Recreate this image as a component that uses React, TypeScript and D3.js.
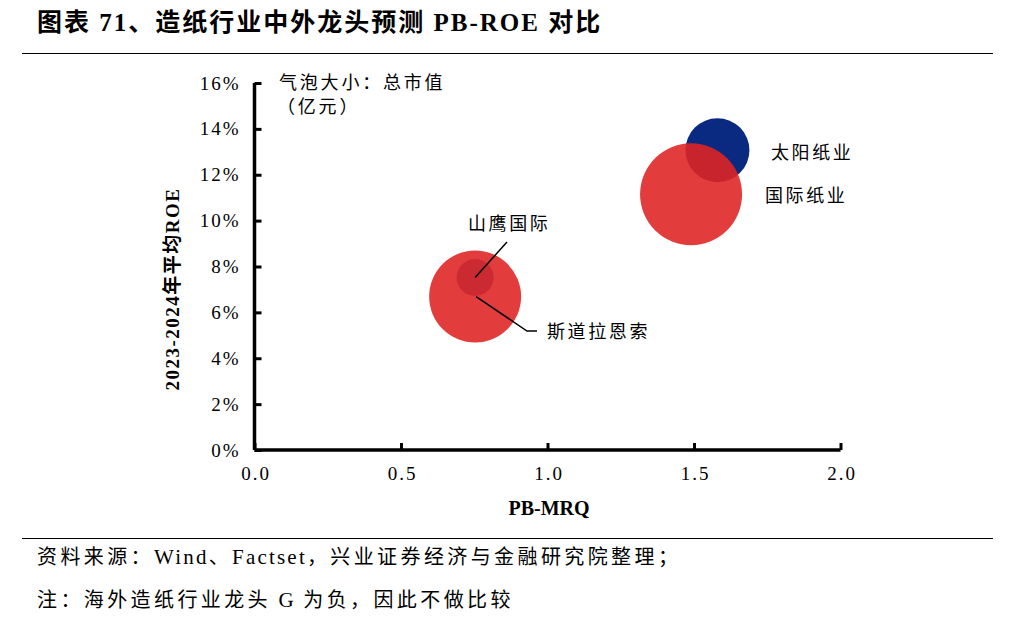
import React, { useEffect, useRef } from 'react';
import * as d3 from 'd3';

// bubble data: PB-MRQ, 2023-2024 avg ROE (%), market cap (亿元)
const companies = ['太阳纸业', '国际纸业', '斯道拉恩索', '山鹰国际'];
const pbValues = [1.58, 1.49, 0.753, 0.753];
const roeValues = [13.07, 11.15, 6.69, 7.52];
const marketCaps = [400, 1016, 826, 134];
const bubbleColors = ['#0a2a82', 'rgba(223,36,36,0.89)', 'rgba(223,36,36,0.89)', '#cc2a32'];

const xTicks = [0, 0.5, 1.0, 1.5, 2.0];
const yTicks = [0, 2, 4, 6, 8, 10, 12, 14, 16];

// footer text, split into CJK / latin runs so spacing can differ
const sourceRuns = ['资料来源：', 'Wind', '、', 'Factset', '，兴业证券经济与金融研究院整理；'];
const noteRuns = ['注：海外造纸行业龙头', ' G ', '为负，因此不做比较'];

const SERIF = '"Liberation Serif", "Noto Sans CJK SC", serif';
const CJK = '"Noto Sans CJK SC", sans-serif';

const isLatin = (s: string) => /^[\x20-\x7e]+$/.test(s);

export default function App() {
  const svgRef = useRef<SVGSVGElement | null>(null);

  useEffect(() => {
    document.body.style.margin = '0';
    if (!svgRef.current) return;
    d3.select(svgRef.current).selectAll('*').remove();

    const width = 1022;
    const height = 623;
    const svg = d3.select(svgRef.current).attr('width', width).attr('height', height);

    const x = d3.scaleLinear().domain([0, 2]).range([254.5, 840.5]);
    const y = d3.scaleLinear().domain([0, 16]).range([450, 83]);
    const r = d3.scaleSqrt().domain([0, d3.max(marketCaps) as number]).range([0, 51]);

    // title
    svg.append('text')
      .attr('x', 37).attr('y', 31)
      .style('font-family', SERIF).style('font-weight', 'bold').style('font-size', '25px')
      .style('letter-spacing', '2px')
      .text('图表 71、造纸行业中外龙头预测 PB-ROE 对比');
    svg.append('line').attr('x1', 22).attr('x2', 993).attr('y1', 53.5).attr('y2', 53.5)
      .attr('stroke', '#000').attr('stroke-width', 1);

    // bubbles
    const idx = d3.range(companies.length);
    svg.append('g').selectAll('circle').data(idx).join('circle')
      .attr('cx', i => x(pbValues[i]))
      .attr('cy', i => y(roeValues[i]))
      .attr('r', i => r(marketCaps[i]))
      .attr('fill', i => bubbleColors[i]);

    // axes
    const yAxis = d3.axisLeft(y).tickValues(yTicks).tickSize(-7).tickPadding(14)
      .tickFormat(d => `${d}%`);
    const gy = svg.append('g').attr('transform', `translate(${x(0)},0)`).call(yAxis);
    const xAxis = d3.axisBottom(x).tickValues(xTicks).tickSize(-7).tickPadding(17)
      .tickFormat(d3.format('.1f'));
    const gx = svg.append('g').attr('transform', `translate(0,${y(0)})`).call(xAxis);
    [gx, gy].forEach(g => {
      g.select('.domain').attr('stroke', '#000').attr('stroke-width', 3.5);
      g.selectAll('.tick line').attr('stroke', '#000').attr('stroke-width', 3);
      g.selectAll('.tick text').style('font-family', SERIF).style('font-size', '19px')
        .style('letter-spacing', '2px').attr('fill', '#000');
    });
    gx.selectAll('.tick text').attr('dx', 1);
    gy.select('.domain').attr('d', `M0,${y(16)}V${y(0)}`);
    gx.select('.domain').attr('d', `M${x(0)},0H${x(2)}`);

    // axis titles
    svg.append('text')
      .attr('transform', `translate(179,289) rotate(-90)`)
      .attr('text-anchor', 'middle')
      .style('font-family', SERIF).style('font-weight', 'bold').style('font-size', '19px')
      .style('letter-spacing', '1.5px')
      .text('2023-2024年平均ROE');
    svg.append('text')
      .attr('x', 549).attr('y', 515).attr('text-anchor', 'middle')
      .style('font-family', SERIF).style('font-weight', 'bold').style('font-size', '20px')
      .text('PB-MRQ');

    // bubble size note
    svg.append('text').attr('x', 279).attr('y', 89)
      .style('font-family', CJK).style('font-size', '18px').style('letter-spacing', '2.8px')
      .text('气泡大小：总市值');
    svg.append('text').attr('x', 277).attr('y', 113)
      .style('font-family', CJK).style('font-size', '18px').style('letter-spacing', '2.8px')
      .text('（亿元）');

    // labels
    const lab = (t: string, lx: number, ly: number) =>
      svg.append('text').attr('x', lx).attr('y', ly)
        .style('font-family', CJK).style('font-size', '18px').style('letter-spacing', '2.6px')
        .text(t);
    lab(companies[0], 771, 159);
    lab(companies[1], 765, 202);
    lab(companies[3], 468, 230);
    lab(companies[2], 547, 338);

    // leader lines
    const line = d3.line();
    const sy = [x(pbValues[3]), y(roeValues[3])] as [number, number];
    svg.append('path')
      .attr('d', line([sy, [507, 242]]))
      .attr('stroke', '#000').attr('stroke-width', 1.5).attr('fill', 'none');
    const sd = [x(pbValues[2]) + 1, y(roeValues[2])] as [number, number];
    svg.append('path')
      .attr('d', line([sd, [527, 331], [537, 331]]))
      .attr('stroke', '#000').attr('stroke-width', 1.5).attr('fill', 'none');

    // footer
    svg.append('line').attr('x1', 22).attr('x2', 993).attr('y1', 538.5).attr('y2', 538.5)
      .attr('stroke', '#000').attr('stroke-width', 1);
    const footer = (runs: string[], ty: number) => {
      const t = svg.append('text').attr('x', 37).attr('y', ty);
      runs.forEach(s => {
        const latin = isLatin(s);
        t.append('tspan')
          .style('font-family', latin ? '"Liberation Serif", serif' : CJK)
          .style('font-size', latin ? '21px' : '20px')
          .style('letter-spacing', latin ? '2.2px' : '3.4px')
          .style('white-space', 'pre')
          .text(s);
      });
    };
    footer(sourceRuns, 564);
    footer(noteRuns, 607);
  }, []);

  return <svg ref={svgRef} style={{ display: 'block', background: '#fff' }}></svg>;
}
